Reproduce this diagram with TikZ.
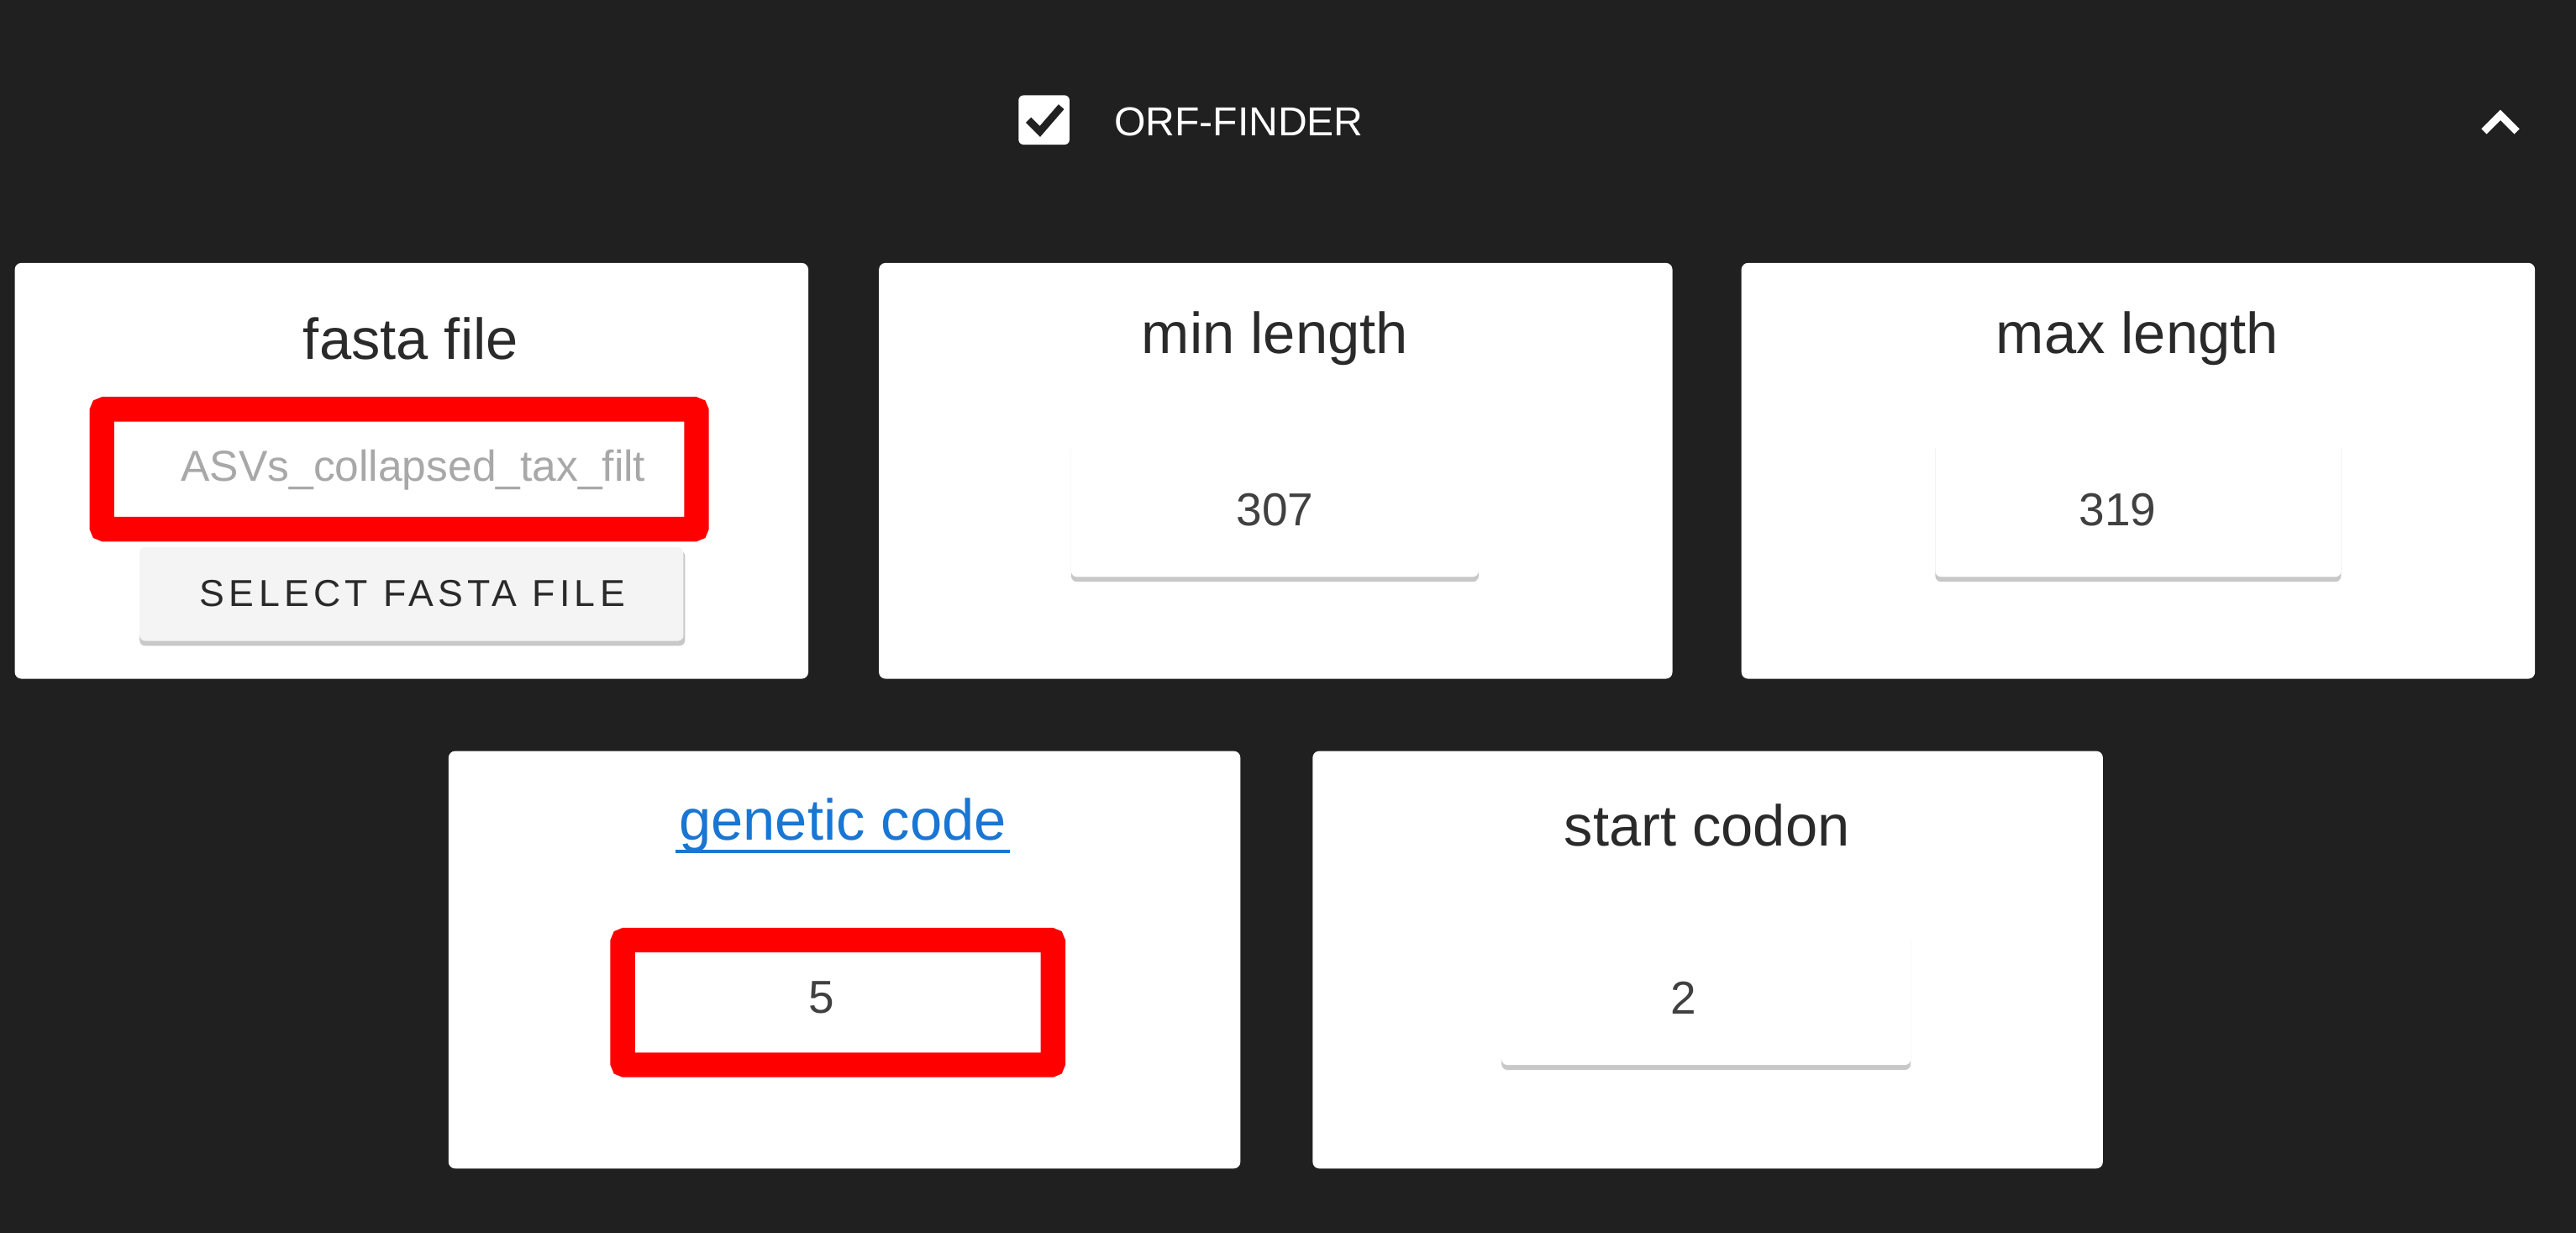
\documentclass[tikz,border=0pt]{standalone}
\usepackage{fontspec}
\setmainfont{Liberation Sans}
\usetikzlibrary{calc}
\definecolor{bg}{HTML}{202020}
\definecolor{txt}{HTML}{2A2A2A}
\definecolor{val}{HTML}{404040}
\definecolor{ph}{HTML}{A8A8A8}
\definecolor{lnk}{HTML}{1976D2}
\definecolor{btn}{HTML}{F4F4F4}
\definecolor{shd}{HTML}{C8C8C8}
\begin{document}
\begin{tikzpicture}[x=0.02cm,y=-0.02cm,
  card/.style={fill=white,rounded corners=0.08cm},
  title/.style={font=\fontsize{20}{22}\selectfont,text=txt},
  value/.style={font=\fontsize{16}{18}\selectfont,text=val},
  redbox/.style={draw=red,line width=0.3cm,rounded corners=0.03cm}]
\fill[bg] (0,0) rectangle (1568,750);
\useasboundingbox (0,0) rectangle (1568,750);
% header
\fill[white,rounded corners=0.06cm] (620,58) rectangle (651,88);
\draw[bg,line width=0.09cm] (626,73) -- (633,80) -- (646,65);
\node[anchor=west,text=white,font=\fontsize{14}{16}\selectfont] (hdr) at (672,74) {ORF-FINDER};
\draw[white,line width=0.09cm] (1512,80) -- (1522,70) -- (1532,80);
% cards
\fill[card] (9,160) rectangle (492,413);
\fill[card] (535,160) rectangle (1018,413);
\fill[card] (1060,160) rectangle (1543,413);
\fill[card] (273,457) rectangle (755,711);
\fill[card] (799,457) rectangle (1280,711);
\node[title] (t1) at (250,206) {fasta file};
\node[title] (t2) at (776,206) {min length};
\node[title] (t3) at (1301,206) {max length};
\node[title,text=lnk] (t4) at (513,502) {genetic code};
\draw[lnk,line width=0.05cm] ($(t4.base west)+(4,7)$) -- ($(t4.base east)+(-4,7)$);
\node[title] (t5) at (1039,502) {start codon};
% card1
\draw[redbox] (62,249) rectangle (424,322);
\fill[white] (70,257) rectangle (415,314);
\begin{scope}
\clip (100,257) rectangle (396,314);
\node[anchor=west,text=ph,font=\fontsize{15}{17}\selectfont] (ph) at (104,286) {ASVs\_collapsed\_tax\_filt};
\end{scope}
\fill[shd,rounded corners=0.07cm] (85,335) rectangle (417,393);
\fill[btn,rounded corners=0.07cm] (85,333) rectangle (416,390);
\node[text=txt,font=\fontsize{13}{15}\selectfont\addfontfeature{LetterSpace=12}] (b) at (251,361) {SELECT FASTA FILE};
% value fields
\fill[shd,rounded corners=0.07cm] (652,270) rectangle (900,354);
\fill[white,rounded corners=0.07cm] (652,268) rectangle (900,351);
\node[value] (v1) at (776,310) {307};
\fill[shd,rounded corners=0.07cm] (1178,270) rectangle (1425,354);
\fill[white,rounded corners=0.07cm] (1178,268) rectangle (1425,351);
\node[value] (v2) at (1289,310) {319};
\fill[shd,rounded corners=0.07cm] (914,568) rectangle (1163,651);
\fill[white,rounded corners=0.07cm] (914,566) rectangle (1163,648);
\node[value] (v4) at (1025,607) {2};
\draw[redbox] (379,572) rectangle (641,648);
\fill[white,rounded corners=0.05cm] (388,580) rectangle (632,639);
\node[value] (v3) at (500,607) {5};
\end{tikzpicture}
\end{document}
